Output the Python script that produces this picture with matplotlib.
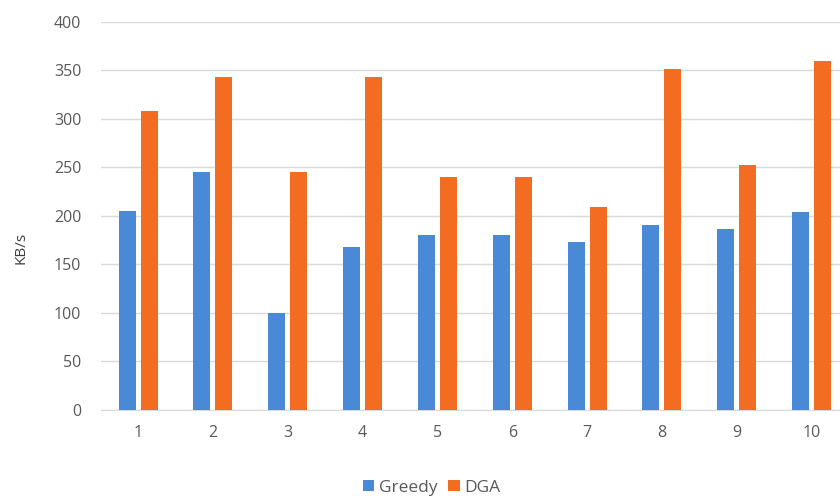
import matplotlib.pyplot as plt
import numpy as np

plt.rcParams['font.family'] = ['Open Sans', 'DejaVu Sans']

# throughput per test run
runs = ['1', '2', '3', '4', '5', '6', '7', '8', '9', '10']
greedy = [205, 245, 100, 168, 180, 180, 173, 191, 186, 204]
dga = [308, 343, 245, 343, 240, 240, 209, 351, 252, 359]

color_greedy = '#4A89D6'
color_dga = '#F26D21'
text_gray = '#595959'

fig = plt.figure(figsize=(8.4, 4.96), dpi=100)
ax = fig.add_axes([0.1198, 0.1734, 0.891, 0.783])

x = np.arange(1, len(runs) + 1)
w = 0.227
ax.bar(x - 0.147, greedy, w, color=color_greedy, label='Greedy', zorder=3)
ax.bar(x + 0.147, dga, w, color=color_dga, label='DGA', zorder=3)

ax.set_xlim(0.5, 10.5)
ax.set_ylim(0, 400)
ax.set_yticks(np.arange(0, 401, 50))
ax.set_xticks(x)
ax.set_xticklabels(runs)
ax.yaxis.grid(True, color='#D9D9D9', linewidth=1, zorder=0)
ax.tick_params(length=0, labelsize=11.5, colors=text_gray)
ax.tick_params(axis='x', pad=11)
ax.tick_params(axis='y', pad=14)
for s in ['top', 'right', 'left']:
    ax.spines[s].set_visible(False)
ax.spines['bottom'].set_color('#D9D9D9')

fig.text(0.025, 0.5, 'KB/s', rotation=90, ha='center', va='center',
         fontsize=11, color='#404040')

fig.legend(loc='center', bbox_to_anchor=(0.514, 0.017), ncol=2, frameon=False,
           fontsize=12.5, handlelength=0.65, handleheight=0.65, handletextpad=0.3,
           columnspacing=0.6, labelcolor=text_gray)

fig.savefig('out.png', dpi=100)
